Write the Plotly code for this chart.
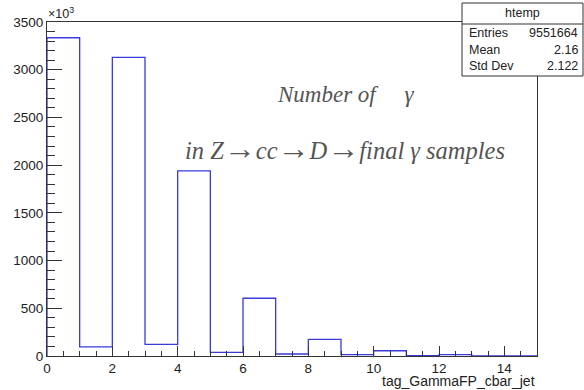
import plotly.graph_objects as go

# ---------------- data ----------------
bin_edges = list(range(0, 16))
counts_k = [3335, 95, 3130, 122, 1940, 39, 605, 21, 175, 15, 55, 3, 15, 1, 0]  # in units of 10^3
x_tick_vals = [0, 2, 4, 6, 8, 10, 12, 14]
y_tick_vals = [0, 500, 1000, 1500, 2000, 2500, 3000, 3500]

hist_name = "htemp"
stats_labels = ["Entries", "Mean", "Std Dev"]
stats_values = ["9551664", "2.16", "2.122"]
x_title = "tag_GammaFP_cbar_jet"
text_line1 = "Number of&nbsp;&nbsp;&nbsp;&nbsp;&nbsp;γ"
arrow = '<span style="font-size:32px">→</span>'
text_line2 = "in Z" + arrow + "cc" + arrow + "D" + arrow + "final γ samples"

# ---------------- layout helpers ----------------
W, H = 584, 390
L, R, T, B = 47, 537, 22, 356


def px(xp):
    return (xp - L) / (R - L)


def py(yp):
    return (B - yp) / (B - T)


xs = [bin_edges[0]] + bin_edges[:-1] + [bin_edges[-1]]
ys = [0] + counts_k + [0]

fig = go.Figure()
fig.add_trace(go.Scatter(
    x=xs, y=ys, mode="lines", line=dict(shape="hv", color="#3a3ad6", width=1.3),
    hoverinfo="skip", showlegend=False,
))

axis_col = "#333333"
tick_font = dict(family="Liberation Sans, Arial, sans-serif", size=13.5, color="#222222")

fig.update_layout(
    width=W, height=H,
    margin=dict(l=L, r=W - R, t=T, b=H - B, pad=0),
    paper_bgcolor="white", plot_bgcolor="white",
    showlegend=False,
    xaxis=dict(
        range=[0, 15], tickmode="array", tickvals=x_tick_vals,
        ticks="inside", ticklen=10, tickwidth=1, tickcolor=axis_col,
        showline=True, linecolor=axis_col, linewidth=1, mirror=True,
        showgrid=False, zeroline=False, tickfont=tick_font,
        minor=dict(tickmode="linear", tick0=0, dtick=0.5, ticks="inside",
                   ticklen=5, tickcolor=axis_col, showgrid=False),
    ),
    yaxis=dict(
        range=[0, 3500], tickmode="array", tickvals=y_tick_vals,
        ticks="inside", ticklen=15, tickwidth=1, tickcolor=axis_col,
        showline=True, linecolor=axis_col, linewidth=1, mirror=True,
        showgrid=False, zeroline=False, tickfont=tick_font,
        minor=dict(tickmode="linear", tick0=0, dtick=100, ticks="inside",
                   ticklen=8, tickcolor=axis_col, showgrid=False),
    ),
)

# stats box
bx0, bx1, by0, by1, bsep = 462, 583, 3, 76, 24
fig.add_shape(type="rect", xref="paper", yref="paper",
              x0=px(bx0), x1=px(bx1), y0=py(by1), y1=py(by0),
              line=dict(color=axis_col, width=1), fillcolor="white", layer="above")
fig.add_shape(type="line", xref="paper", yref="paper",
              x0=px(bx0), x1=px(bx1), y0=py(bsep), y1=py(bsep),
              line=dict(color=axis_col, width=1), layer="above")

stat_font = dict(family="Liberation Sans, Arial, sans-serif", size=12.5, color="#222222")
fig.add_annotation(xref="paper", yref="paper", x=px((bx0 + bx1) / 2), y=py(13),
                   text=hist_name, showarrow=False, xanchor="center", yanchor="middle",
                   font=stat_font)
row_y = [33, 50, 66]
for lab, val, yy in zip(stats_labels, stats_values, row_y):
    fig.add_annotation(xref="paper", yref="paper", x=px(467), y=py(yy), text=lab,
                       showarrow=False, xanchor="left", yanchor="middle", font=stat_font)
    fig.add_annotation(xref="paper", yref="paper", x=px(580), y=py(yy), text=val,
                       showarrow=False, xanchor="right", yanchor="middle", font=stat_font)

# x10^3
fig.add_annotation(xref="paper", yref="paper", x=px(46), y=py(13), text="×10<sup>3</sup>",
                   showarrow=False, xanchor="left", yanchor="middle",
                   font=dict(family="Liberation Sans, Arial, sans-serif", size=12.5, color="#222222"))

# x axis title
fig.add_annotation(xref="paper", yref="paper", x=px(537), y=py(381), text=x_title,
                   showarrow=False, xanchor="right", yanchor="middle",
                   font=dict(family="Liberation Sans, Arial, sans-serif", size=14, color="#222222"))

# in-plot text
serif1 = dict(family="Liberation Serif, Times New Roman, serif", size=23, color="#555555", style="italic")
serif2 = dict(family="Liberation Serif, Times New Roman, serif", size=24.5, color="#555555", style="italic")
fig.add_annotation(xref="paper", yref="paper", x=px(346), y=py(94), text=text_line1,
                   showarrow=False, xanchor="center", yanchor="middle", font=serif1)
fig.add_annotation(xref="paper", yref="paper", x=px(345), y=py(148), text=text_line2,
                   showarrow=False, xanchor="center", yanchor="middle", font=serif2)

fig.write_html("out.html")
